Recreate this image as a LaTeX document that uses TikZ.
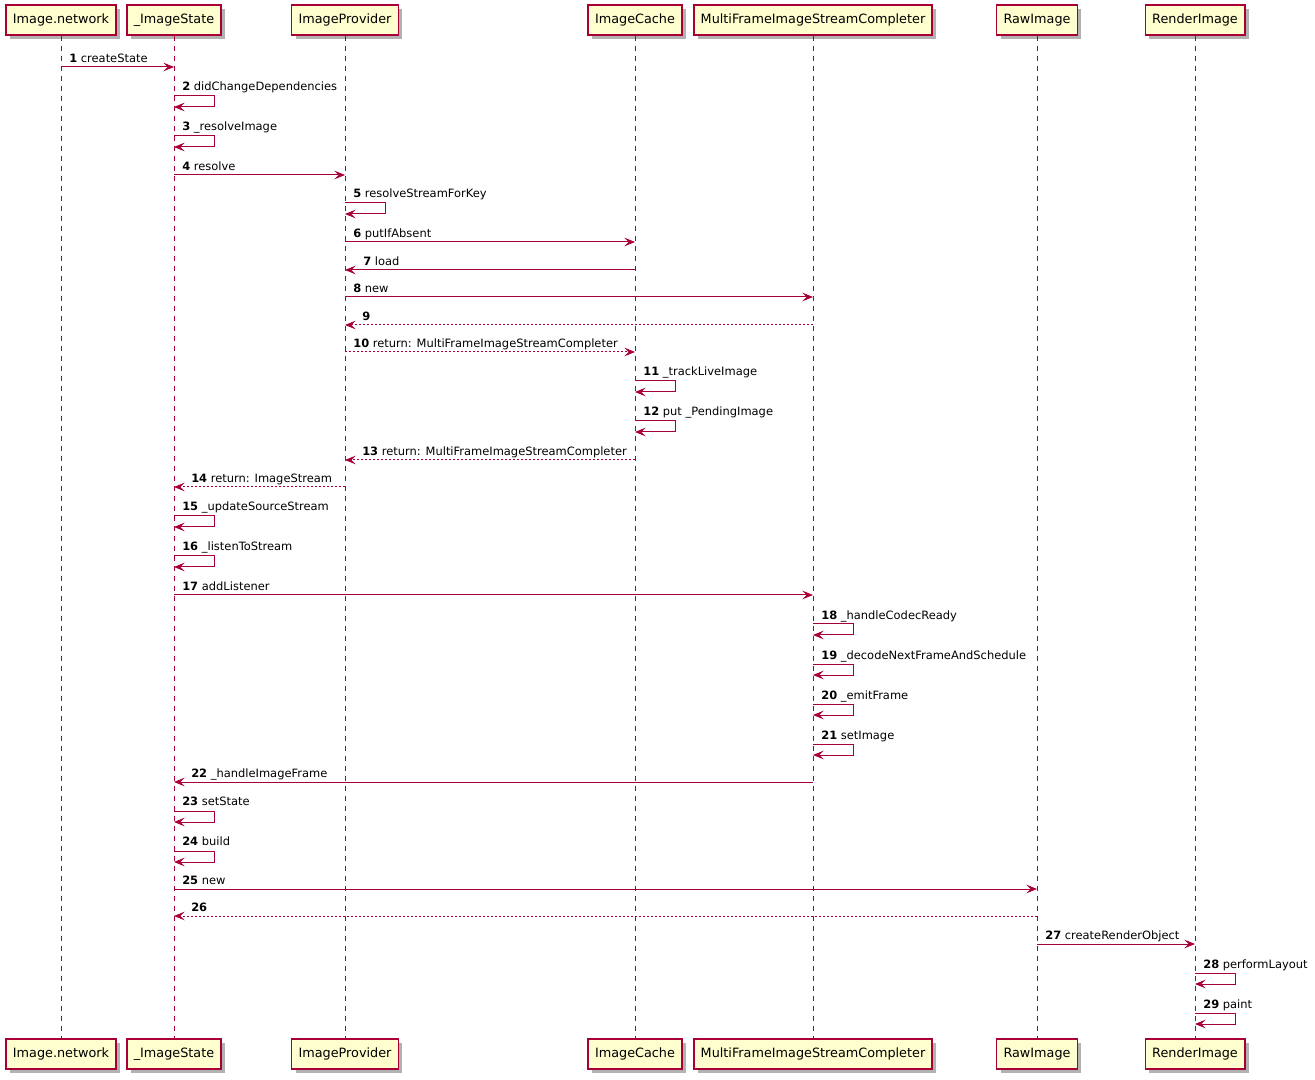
\documentclass[tikz,border=0pt]{standalone}
\usepackage{fontspec}
\setmainfont{DejaVu Sans}
\usetikzlibrary{arrows.meta,shadows}
\definecolor{pu}{HTML}{A80036}
\definecolor{pubg}{HTML}{FEFECE}
\begin{document}
\begin{tikzpicture}[x=0.75pt,y=-0.75pt,
 part/.style={draw=pu, fill=pubg, line width=1.1pt, minimum height=22.5pt, inner xsep=5.2pt,
   font=\fontsize{9.6}{11}\selectfont,
   drop shadow={shadow xshift=3pt,shadow yshift=-3pt,fill=black,opacity=0.3}},
 life/.style={draw=pu, dash pattern=on 3.75pt off 3.75pt, line width=0.75pt},
 msg/.style={draw=pu, line width=0.75pt, -{Stealth[length=8pt,width=6.5pt,inset=3.2pt]}},
 ret/.style={msg, dash pattern=on 1.5pt off 1.5pt},
 lbl/.style={font=\fontsize{8.6}{10}\selectfont, anchor=base west, inner sep=0pt}
]
\useasboundingbox (0,0) rectangle (1315,1080);
\fill[white] (0,0) rectangle (1315,1080);
% participants
\node[part] (tn) at (61,20) {Image.network};
\node[part] (ts) at (174,20) {\_ImageState};
\node[part] (tp) at (345,20) {ImageProvider};
\node[part] (tc) at (635,20) {ImageCache};
\node[part] (tm) at (813,20) {MultiFrameImageStreamCompleter};
\node[part] (tr) at (1037,20) {RawImage};
\node[part] (tri) at (1195,20) {RenderImage};
\node[part] (bn) at (61,1054) {Image.network};
\node[part] (bs) at (174,1054) {\_ImageState};
\node[part] (bp) at (345,1054) {ImageProvider};
\node[part] (bc) at (635,1054) {ImageCache};
\node[part] (bm) at (813,1054) {MultiFrameImageStreamCompleter};
\node[part] (br) at (1037,1054) {RawImage};
\node[part] (bri) at (1195,1054) {RenderImage};
% lifelines
\draw[life] (tn) -- (bn);
\draw[life] (ts) -- (bs);
\draw[life] (tp) -- (bp);
\draw[life] (tc) -- (bc);
\draw[life] (tm) -- (bm);
\draw[life] (tr) -- (br);
\draw[life] (tri) -- (bri);
% messages
\draw[msg] (tn |- 0,67) -- (ts |- 0,67);
\node[lbl] (l1) at (69,62.5) {\textbf{1} createState};
\draw[msg] (ts |- 0,96) -- ++(40,0) -- ++(0,11) -- (ts |- 0,107);
\node[lbl] (l2) at (182,91) {\textbf{2} didChangeDependencies};
\draw[msg] (ts |- 0,136) -- ++(40,0) -- ++(0,11) -- (ts |- 0,147);
\node[lbl] (l3) at (182,131) {\textbf{3} \_resolveImage};
\draw[msg] (ts |- 0,175) -- (tp |- 0,175);
\node[lbl] (l4) at (182,170.5) {\textbf{4} resolve};
\draw[msg] (tp |- 0,203) -- ++(40,0) -- ++(0,11) -- (tp |- 0,214);
\node[lbl] (l5) at (353,198) {\textbf{5} resolveStreamForKey};
\draw[msg] (tp |- 0,242) -- (tc |- 0,242);
\node[lbl] (l6) at (353,237.5) {\textbf{6} putIfAbsent};
\draw[msg] (tc |- 0,270) -- (tp |- 0,270);
\node[lbl] (l7) at (363,265.5) {\textbf{7} load};
\draw[msg] (tp |- 0,297) -- (tm |- 0,297);
\node[lbl] (l8) at (353,292.5) {\textbf{8} new};
\draw[ret] (tm |- 0,325) -- (tp |- 0,325);
\node[lbl] (l9) at (362,320.5) {\textbf{9}};
\draw[ret] (tp |- 0,352) -- (tc |- 0,352);
\node[lbl] (l10) at (353,347.5) {\textbf{10} return: MultiFrameImageStreamCompleter};
\draw[msg] (tc |- 0,381) -- ++(40,0) -- ++(0,11) -- (tc |- 0,392);
\node[lbl] (l11) at (643,376) {\textbf{11} \_trackLiveImage};
\draw[msg] (tc |- 0,421) -- ++(40,0) -- ++(0,11) -- (tc |- 0,432);
\node[lbl] (l12) at (643,416) {\textbf{12} put \_PendingImage};
\draw[ret] (tc |- 0,460) -- (tp |- 0,460);
\node[lbl] (l13) at (362,455.5) {\textbf{13} return: MultiFrameImageStreamCompleter};
\draw[ret] (tp |- 0,487) -- (ts |- 0,487);
\node[lbl] (l14) at (191,482.5) {\textbf{14} return: ImageStream};
\draw[msg] (ts |- 0,516) -- ++(40,0) -- ++(0,11) -- (ts |- 0,527);
\node[lbl] (l15) at (182,511) {\textbf{15} \_updateSourceStream};
\draw[msg] (ts |- 0,556) -- ++(40,0) -- ++(0,11) -- (ts |- 0,567);
\node[lbl] (l16) at (182,551) {\textbf{16} \_listenToStream};
\draw[msg] (ts |- 0,595) -- (tm |- 0,595);
\node[lbl] (l17) at (182,590.5) {\textbf{17} addListener};
\draw[msg] (tm |- 0,624) -- ++(40,0) -- ++(0,11) -- (tm |- 0,635);
\node[lbl] (l18) at (821,619) {\textbf{18} \_handleCodecReady};
\draw[msg] (tm |- 0,664) -- ++(40,0) -- ++(0,11) -- (tm |- 0,675);
\node[lbl] (l19) at (821,659) {\textbf{19} \_decodeNextFrameAndSchedule};
\draw[msg] (tm |- 0,704) -- ++(40,0) -- ++(0,11) -- (tm |- 0,715);
\node[lbl] (l20) at (821,699) {\textbf{20} \_emitFrame};
\draw[msg] (tm |- 0,744) -- ++(40,0) -- ++(0,11) -- (tm |- 0,755);
\node[lbl] (l21) at (821,739) {\textbf{21} setImage};
\draw[msg] (tm |- 0,782) -- (ts |- 0,782);
\node[lbl] (l22) at (191,777.5) {\textbf{22} \_handleImageFrame};
\draw[msg] (ts |- 0,811) -- ++(40,0) -- ++(0,11) -- (ts |- 0,822);
\node[lbl] (l23) at (182,805.5) {\textbf{23} setState};
\draw[msg] (ts |- 0,851) -- ++(40,0) -- ++(0,11) -- (ts |- 0,862);
\node[lbl] (l24) at (182,845.5) {\textbf{24} build};
\draw[msg] (ts |- 0,889) -- (tr |- 0,889);
\node[lbl] (l25) at (182,884.5) {\textbf{25} new};
\draw[ret] (tr |- 0,916) -- (ts |- 0,916);
\node[lbl] (l26) at (191,911.5) {\textbf{26}};
\draw[msg] (tr |- 0,944) -- (tri |- 0,944);
\node[lbl] (l27) at (1045,939.5) {\textbf{27} createRenderObject};
\draw[msg] (tri |- 0,973) -- ++(40,0) -- ++(0,11) -- (tri |- 0,984);
\node[lbl] (l28) at (1203,968) {\textbf{28} performLayout};
\draw[msg] (tri |- 0,1013) -- ++(40,0) -- ++(0,11) -- (tri |- 0,1024);
\node[lbl] (l29) at (1203,1008) {\textbf{29} paint};
\end{tikzpicture}
\end{document}
